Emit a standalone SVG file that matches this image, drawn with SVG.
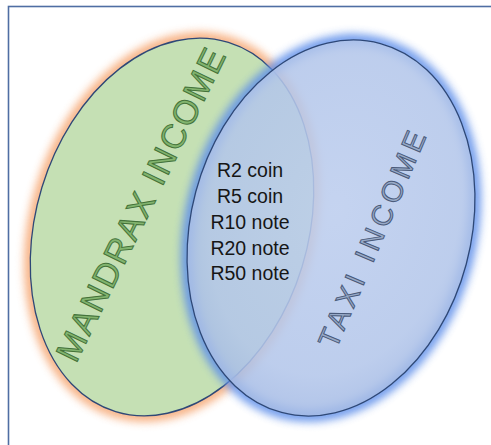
<svg xmlns="http://www.w3.org/2000/svg" width="491" height="445" viewBox="0 0 491 445">
  <defs>
    <filter id="glow" x="-20%" y="-20%" width="140%" height="140%">
      <feGaussianBlur stdDeviation="4.5"/>
    </filter>
    <radialGradient id="blueFill" cx="50%" cy="45%" r="55%">
      <stop offset="0" stop-color="#bccdee"/>
      <stop offset="0.8" stop-color="#b3c6ea"/>
      <stop offset="1" stop-color="#a5bbe5"/>
    </radialGradient>
  </defs>
  <style>
    .frame { fill: none; stroke: #4f6ea3; stroke-width: 1.6; }
    .outline { stroke: #2e4877; stroke-width: 1.3; }
    .word { font-family: "Liberation Sans", Arial, sans-serif; }
    .mandrax { fill: #82b46e; stroke: #44733a; stroke-width: 1; font-size: 34px; }
    .taxi { fill: #98aac8; stroke: #4a5a7a; stroke-width: 1; font-size: 29px; }
    .list { font-family: "Liberation Sans", Arial, sans-serif; font-size: 19.5px; fill: #161616; text-anchor: middle; }
  </style>

  <rect class="frame" x="8.5" y="6.5" width="500" height="460"/>

  <g id="mandrax-income">
    <ellipse cx="172" cy="227" rx="136" ry="193" transform="rotate(17 172 227)" fill="none" stroke="#f6a874" stroke-width="12" filter="url(#glow)" opacity="0.9"/>
    <ellipse class="outline" cx="172" cy="227" rx="136" ry="193" transform="rotate(17 172 227)" fill="#c5e0b4"/>
    <text class="word mandrax" transform="translate(76 364) rotate(-64)" textLength="343" lengthAdjust="spacing">MANDRAX INCOME</text>
  </g>

  <g id="taxi-income">
    <ellipse cx="331" cy="228" rx="140" ry="191" transform="rotate(15 331 228)" fill="none" stroke="#5f8fea" stroke-width="12" filter="url(#glow)" opacity="0.9"/>
    <ellipse class="outline" cx="331" cy="228" rx="140" ry="191" transform="rotate(15 331 228)" fill="url(#blueFill)" fill-opacity="0.87"/>
    <text class="word taxi" transform="translate(336 350) rotate(-67)" textLength="232" lengthAdjust="spacing">TAXI INCOME</text>
  </g>

  <g id="overlap">
    <text class="list" x="250" y="177">R2 coin</text>
    <text class="list" x="250" y="203">R5 coin</text>
    <text class="list" x="250" y="229">R10 note</text>
    <text class="list" x="250" y="254.5">R20 note</text>
    <text class="list" x="250" y="280">R50 note</text>
  </g>
</svg>
